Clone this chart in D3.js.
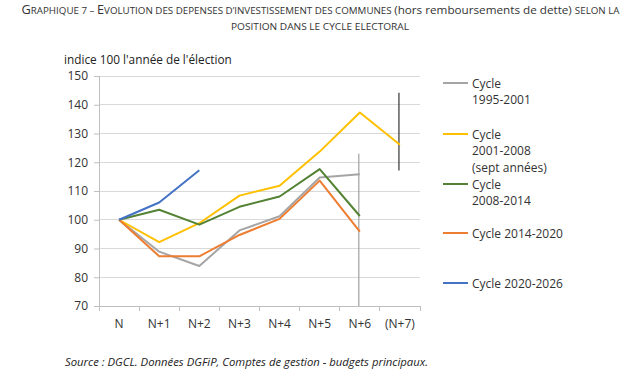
<!DOCTYPE html>
<html><head><meta charset="utf-8">
<script src="https://cdn.jsdelivr.net/npm/d3@7"></script>
<style>
body{margin:0;background:#fff;}
svg{display:block;}
</style></head>
<body>
<svg id="chart" width="637" height="379"></svg>
<script>
const categories = ["N","N+1","N+2","N+3","N+4","N+5","N+6","(N+7)"];
const yTicks = [70,80,90,100,110,120,130,140,150];
const seriesNames = ["Cycle 1995-2001","Cycle 2001-2008 (sept années)","Cycle 2008-2014","Cycle 2014-2020","Cycle 2020-2026"];
const legendLines = [["Cycle","1995-2001"],["Cycle","2001-2008","(sept années)"],["Cycle","2008-2014"],["Cycle 2014-2020"],["Cycle 2020-2026"]];
const colors = ["#A5A5A5","#FFC000","#548235","#ED7D31","#4472C4"];
const cycle1995 = [100,88.9,83.9,96.3,101.2,114.7,115.8];
const cycle2001 = [100,92.2,98.8,108.4,111.8,123.7,137.3,126.1];
const cycle2008 = [100,103.5,98.3,104.5,108.1,117.6,101.3];
const cycle2014 = [100,87.3,87.3,94.7,100.3,113.6,95.9];
const cycle2020 = [100,106.0,117.2];
const markerCats = ["N+6","(N+7)"];
const markerLow = [70,117.1];
const markerHigh = [123,144.2];
const markerColors = ["#A0A0A0","#333333"];

const allSeries = [cycle1995,cycle2001,cycle2008,cycle2014,cycle2020];
const svg = d3.select("#chart");
const font = "'Open Sans', sans-serif";

// Title
const title = svg.append("text").attr("x",21.5).attr("y",14)
  .attr("textLength",598).attr("lengthAdjust","spacingAndGlyphs")
  .attr("font-family",font).attr("font-size",10.5).attr("fill","#333");
title.append("tspan").attr("font-size",12).text("G");
title.append("tspan").attr("font-size",9.2).text("RAPHIQUE 7 – ");
title.append("tspan").attr("font-size",12).text("E");
title.append("tspan").attr("font-size",9.2).text("VOLUTION DES DEPENSES D’INVESTISSEMENT DES COMMUNES ");
title.append("tspan").attr("font-size",11).text("(hors remboursements de dette) ");
title.append("tspan").attr("font-size",9.2).text("SELON LA");
svg.append("text").attr("x",231).attr("y",29.5)
  .attr("textLength",178).attr("lengthAdjust","spacingAndGlyphs")
  .attr("font-family",font).attr("font-size",9.2).attr("fill","#333").text("POSITION DANS LE CYCLE ELECTORAL");

const x = d3.scaleBand().domain(categories).range([99,420]).paddingInner(0).paddingOuter(0);
const y = d3.scaleLinear().domain([70,150]).range([306,76]);
const cx = c => x(c) + x.bandwidth()/2;

// axis title
svg.append("text").attr("x",64).attr("y",63.5).attr("font-family",font).attr("font-size",11.8)
  .attr("fill","#222").text("indice 100 l'année de l'élection");

// gridlines
svg.append("g").selectAll("line").data(yTicks.filter(t=>t>70)).join("line")
  .attr("x1",99).attr("x2",420).attr("y1",d=>y(d)).attr("y2",d=>y(d))
  .attr("stroke","#D9D9D9").attr("stroke-width",1).attr("shape-rendering","crispEdges");

// y axis
const yAxis = svg.append("g").attr("transform","translate(99,0)")
  .call(d3.axisLeft(y).tickValues(yTicks).tickSize(5).tickPadding(6));
yAxis.select(".domain").attr("stroke","#BFBFBF");
yAxis.selectAll(".tick line").attr("stroke","#BFBFBF");
yAxis.selectAll("text").attr("font-family",font).attr("font-size",12).attr("fill","#333");

// x axis
const xAxis = svg.append("g").attr("transform","translate(0,306)")
  .call(d3.axisBottom(x).tickSize(0).tickPadding(13));
xAxis.select(".domain").attr("stroke","#BFBFBF");
xAxis.selectAll("text").attr("font-family",font).attr("font-size",12).attr("fill","#333");
svg.append("g").selectAll("line").data(categories.concat(["__end"])).join("line")
  .attr("x1",(d,i)=> i<categories.length ? x(d) : x.range()[1])
  .attr("x2",(d,i)=> i<categories.length ? x(d) : x.range()[1])
  .attr("y1",306).attr("y2",311).attr("stroke","#BFBFBF").attr("shape-rendering","crispEdges");

// marker vertical lines
svg.append("g").selectAll("line").data(markerCats).join("line")
  .attr("x1",d=>cx(d)-1).attr("x2",d=>cx(d)-1)
  .attr("y1",(d,i)=>y(markerHigh[i])).attr("y2",(d,i)=>y(markerLow[i]))
  .attr("stroke",(d,i)=>markerColors[i]).attr("stroke-width",1.2);

// series lines
const line = d3.line().x((d,i)=>cx(categories[i])).y(d=>y(d));
svg.append("g").selectAll("path").data(allSeries).join("path")
  .attr("d",d=>line(d)).attr("fill","none")
  .attr("stroke",(d,i)=>colors[i]).attr("stroke-width",2).attr("stroke-linejoin","round");

// legend
const legY = [83,134,184,233,283];
const lg = svg.append("g");
legendLines.forEach((lines,i)=>{
  lg.append("line").attr("x1",443).attr("x2",468).attr("y1",legY[i]).attr("y2",legY[i])
    .attr("stroke",colors[i]).attr("stroke-width",2);
  const t = lg.append("text").attr("font-family",font).attr("font-size",12).attr("fill","#333");
  lines.forEach((s,j)=>{
    t.append("tspan").attr("x",472).attr("y",legY[i]+4.5+j*16.7).text(s);
  });
});

// source
svg.append("text").attr("x",65).attr("y",366).attr("font-family",font).attr("font-style","italic")
  .attr("font-size",10.5).attr("fill","#222")
  .attr("textLength",363).attr("lengthAdjust","spacingAndGlyphs")
  .text("Source : DGCL. Données DGFiP, Comptes de gestion - budgets principaux.");
</script>
</body></html>
